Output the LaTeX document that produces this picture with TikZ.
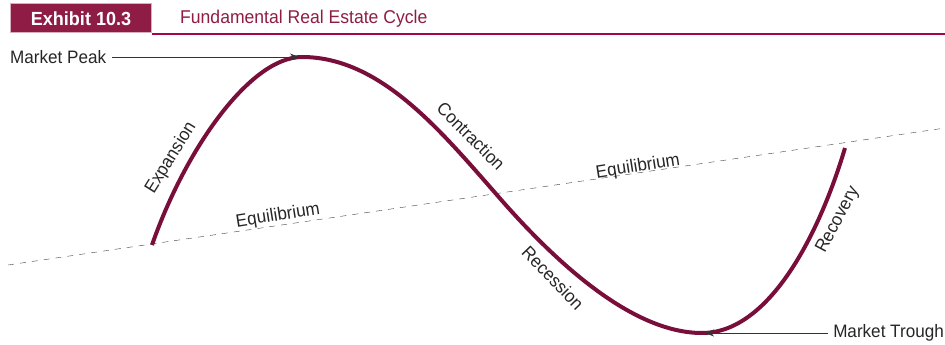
\documentclass[tikz,border=0pt]{standalone}
\usepackage{fontspec}
\setmainfont{Liberation Sans}[FakeStretch=0.95]
\usetikzlibrary{arrows.meta}

\definecolor{cyclered}{HTML}{7A0E3A}
\definecolor{headred}{HTML}{8E1C45}
\definecolor{rulered}{HTML}{A3064D}

\begin{document}
\begin{tikzpicture}[x=1pt, y=-1pt,
    lbl/.style={text=black!85, font=\fontsize{18}{20}\selectfont, inner sep=0pt},
    pointer/.style={-{Stealth[length=9pt, width=7pt]}, black!80, semithick}]
    \useasboundingbox (0,0) rectangle (945,345);

    % Kopfzeile
    \fill[headred] (10,3) rectangle (152,33);
    \draw[headred!35, line width=1pt] (10.5,3.5) rectangle (151.5,32.5);
    \node[text=white, font=\fontsize{19}{21}\selectfont\bfseries, inner sep=0pt] (exhibit) at (81,19) {Exhibit 10.3};
    \node[text=headred, font=\fontsize{18.5}{21}\selectfont, inner sep=0pt, anchor=west] (title) at (180,19) {Fundamental Real Estate Cycle};
    \draw[rulered, line width=2pt] (152,34) -- (945,34);

    % Gleichgewicht
    \coordinate (eqL) at (8,265);
    \coordinate (eqR) at (945,128);
    \draw[black!75, thin, dash pattern=on 6pt off 6pt] (eqL) -- (eqR);

    % Zyklus
    \coordinate (start) at (152,245);
    \coordinate (peak) at (302,57);
    \coordinate (cross) at (497,195);
    \coordinate (trough) at (702,333);
    \coordinate (stop) at (845,148);
    \draw[cyclered, line width=4pt] (start) .. controls (185,150) and (250,57) .. (peak)
        .. controls (380,57) and (440,130) .. (cross)
        .. controls (555,262) and (632,333) .. (trough)
        .. controls (770,333) and (820,232) .. (stop);

    % Phasen
    \node[lbl, rotate=58] (expansion) at (171,158) {Expansion};
    \node[lbl, rotate=9] (equil1) at (278,216) {Equilibrium};
    \node[lbl, rotate=-45] (contraction) at (471,136) {Contraction};
    \node[lbl, rotate=9] (equil2) at (638,167) {Equilibrium};
    \node[lbl, rotate=-46] (recession) at (553,278) {Recession};
    \node[lbl, rotate=62] (recovery) at (838,220) {Recovery};

    % Hoch- und Tiefpunkt
    \node[lbl, anchor=west] (peaklbl) at (10,57) {Market Peak};
    \node[lbl, anchor=east] (troughlbl) at (944,333) {Market Trough};
    \draw[pointer, shorten <=6pt, shorten >=3pt] (peaklbl) -- (peak);
    \draw[pointer, shorten <=5pt, shorten >=3pt] (troughlbl) -- (trough);
\end{tikzpicture}
\end{document}
